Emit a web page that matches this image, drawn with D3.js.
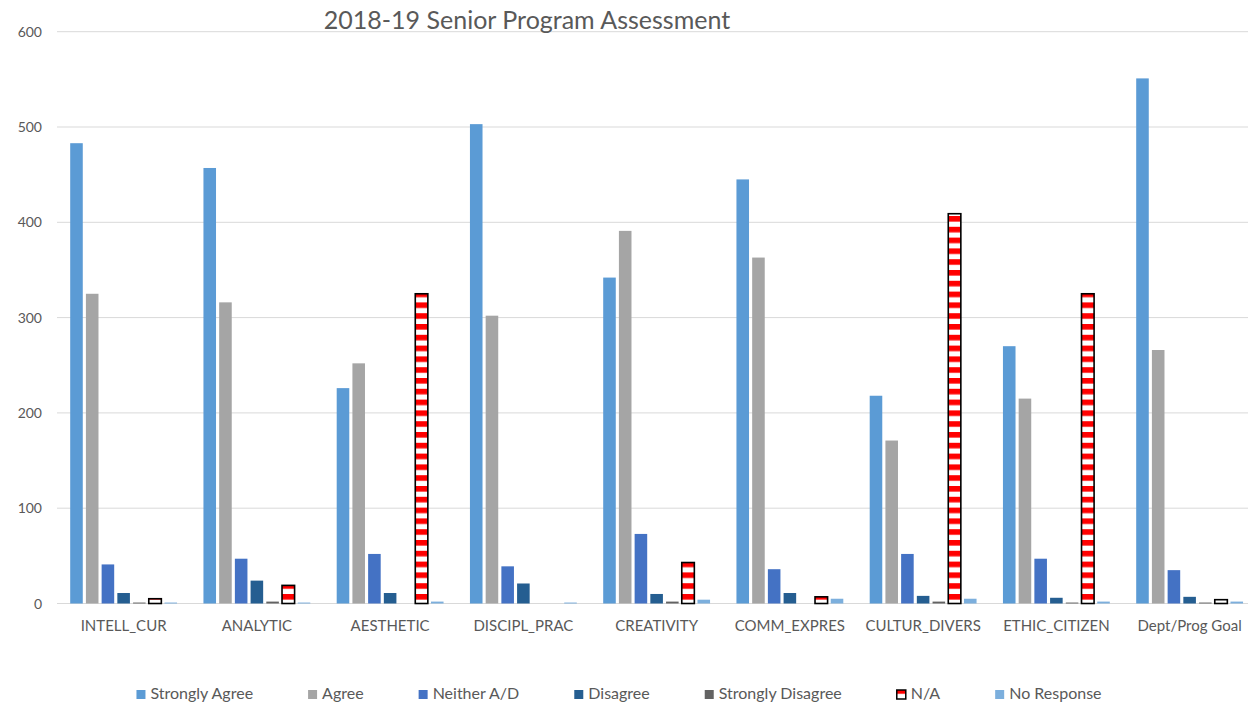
<!DOCTYPE html>
<html>
<head>
<meta charset="utf-8">
<script src="https://cdn.jsdelivr.net/npm/d3@7"></script>
<style>
  body { margin: 0; background: #fff; }
  text { font-family: Lato, "Liberation Sans", sans-serif; fill: #595959; }
</style>
</head>
<body>
<script>
var width = 1248;
var height = 702;

var categories = ["INTELL_CUR", "ANALYTIC", "AESTHETIC", "DISCIPL_PRAC", "CREATIVITY",
                  "COMM_EXPRES", "CULTUR_DIVERS", "ETHIC_CITIZEN", "Dept/Prog Goal"];
var seriesNames = ["Strongly Agree", "Agree", "Neither A/D", "Disagree", "Strongly Disagree", "N/A", "No Response"];

var stronglyAgree    = [483, 457, 226, 503, 342, 445, 218, 270, 551];
var agree            = [325, 316, 252, 302, 391, 363, 171, 215, 266];
var neither          = [41, 47, 52, 39, 73, 36, 52, 47, 35];
var disagree         = [11, 24, 11, 21, 10, 11, 8, 6, 7];
var stronglyDisagree = [1, 2, 0, 0, 2, 0, 2, 1, 1];
var notApplicable    = [5, 19, 325, 0, 43, 7, 409, 325, 4];
var noResponse       = [1, 1, 2, 1, 4, 5, 5, 2, 2];

var yTicks = [0, 100, 200, 300, 400, 500, 600];

var seriesValues = [stronglyAgree, agree, neither, disagree, stronglyDisagree, notApplicable, noResponse];
var colors = ["#5B9BD5", "#A5A5A5", "#4472C4", "#255E91", "#636363", "url(#na-stripes)", "#7CAFDD"];

var svg = d3.select("body").append("svg")
    .attr("width", width)
    .attr("height", height);

// red/white stripes for the N/A series
var pat = svg.append("defs").append("pattern")
    .attr("id", "na-stripes")
    .attr("patternUnits", "userSpaceOnUse")
    .attr("width", 20)
    .attr("height", 10.8);
pat.append("rect").attr("width", 20).attr("height", 10.8).attr("fill", "#fff");
pat.append("rect").attr("width", 20).attr("height", 5.6).attr("fill", "#FF0000");

var x0 = d3.scaleBand()
    .domain(categories)
    .range([57, 57 + 9 * 133.25])
    .padding(0);

var x1 = d3.scaleBand()
    .domain(seriesNames)
    .range([0, x0.bandwidth()])
    .paddingInner(0.2)
    .paddingOuter(0.84);

var y = d3.scaleLinear()
    .domain([0, 600])
    .range([603.5, 31.7]);

// gridlines
svg.append("g")
    .selectAll("line")
    .data(yTicks)
    .enter()
      .append("line")
      .attr("x1", 57)
      .attr("x2", width)
      .attr("y1", d => y(d))
      .attr("y2", d => y(d))
      .attr("stroke", "#d9d9d9")
      .attr("stroke-width", 1);

svg.append("g")
    .selectAll("text")
    .data(yTicks)
    .enter()
      .append("text")
      .attr("x", 42)
      .attr("y", d => y(d) + 5)
      .attr("text-anchor", "end")
      .attr("font-size", "14px")
      .text(d => d);

var rows = [];
categories.forEach(function(c, i) {
    seriesNames.forEach(function(s, j) {
        rows.push({ category: c, series: s, value: seriesValues[j][i], color: colors[j] });
    });
});

svg.append("g")
    .selectAll("rect")
    .data(rows)
    .enter()
      .append("rect")
      .attr("x", d => x0(d.category) + x1(d.series))
      .attr("y", d => y(d.value))
      .attr("width", x1.bandwidth())
      .attr("height", d => y(0) - y(d.value))
      .attr("fill", d => d.color)
      .attr("stroke", d => d.series == "N/A" && d.value > 0 ? "#000" : "none")
      .attr("stroke-width", 1.6);

// category labels
svg.append("g")
    .selectAll("text")
    .data(categories)
    .enter()
      .append("text")
      .attr("x", d => x0(d) + x0.bandwidth() / 2)
      .attr("y", 631)
      .attr("text-anchor", "middle")
      .attr("font-size", "15px")
      .text(d => d);

svg.append("text")
    .attr("x", 527)
    .attr("y", 29)
    .attr("text-anchor", "middle")
    .attr("font-size", "25px")
    .text("2018-19 Senior Program Assessment");

// legend
var legend = svg.append("g");
var items = legend.selectAll("g")
    .data(seriesNames)
    .enter()
      .append("g");

items.append("rect")
    .attr("width", 9)
    .attr("height", 9)
    .attr("y", -9)
    .attr("fill", (d, i) => colors[i])
    .attr("stroke", d => d == "N/A" ? "#000" : "none")
    .attr("stroke-width", 1.5);

items.append("text")
    .attr("x", 14)
    .attr("y", 0)
    .attr("font-size", "16px")
    .text(d => d);

var gap = 55;
var pos = 0;
items.each(function() {
    var w = 14 + this.querySelector("text").getComputedTextLength();
    d3.select(this).attr("data-x", pos);
    pos += w + gap;
});
var total = pos - gap;
var start = 619 - total / 2;
items.attr("transform", function() {
    return "translate(" + (start + (+this.getAttribute("data-x"))) + ",699)";
});
</script>
</body>
</html>
